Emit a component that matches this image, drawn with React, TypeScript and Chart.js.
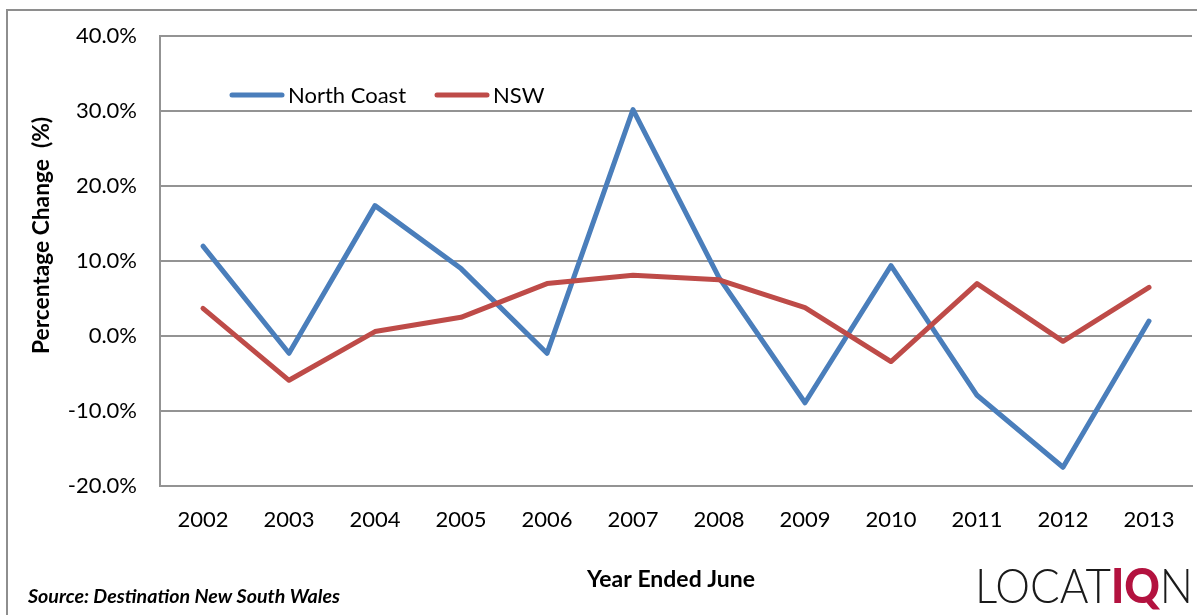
import React, { useEffect, useRef } from 'react';
import { Chart, registerables } from 'chart.js';

Chart.register(...registerables);

const years = ['2002', '2003', '2004', '2005', '2006', '2007', '2008', '2009', '2010', '2011', '2012', '2013'];
const northCoast = [12.0, -2.3, 17.4, 9.0, -2.3, 30.2, 7.8, -8.9, 9.4, -7.9, -17.5, 2.0];
const nsw = [3.7, -5.9, 0.6, 2.5, 7.0, 8.1, 7.5, 3.8, -3.4, 7.0, -0.7, 6.5];
const yMin = -20;
const yMax = 40;
const yStep = 10;

const seriesNames = ['North Coast', 'NSW'];
const seriesColors = ['#4A7EBB', '#BE4B48'];

const yTitle = 'Percentage Change  (%)';
const xTitle = 'Year Ended June';
const sourceText = 'Source: Destination New South Wales';

const GRID = '#939393';
const FONT = 'Lato, "Open Sans", sans-serif';

function fitText(ctx: CanvasRenderingContext2D, text: string, x: number, y: number, width: number) {
  const w = ctx.measureText(text).width;
  ctx.save();
  ctx.translate(x, y);
  ctx.scale(width / w, 1);
  ctx.fillText(text, 0, 0);
  ctx.restore();
}

const overlayPlugin = {
  id: 'overlay',
  beforeDraw(chart: any) {
    const ctx = chart.ctx as CanvasRenderingContext2D;
    ctx.save();
    ctx.fillStyle = '#ffffff';
    ctx.fillRect(0, 0, chart.width, chart.height);
    ctx.strokeStyle = '#8e8e8e';
    ctx.lineWidth = 2;
    ctx.strokeRect(7, 10, 1400, 800);
    ctx.restore();
  },
  afterDraw(chart: any) {
    const ctx = chart.ctx as CanvasRenderingContext2D;
    ctx.save();
    // legend
    const legendX = [230, 435];
    const legendY = 95;
    chart.data.datasets.forEach((ds: any, i: number) => {
      const x = legendX[i];
      ctx.strokeStyle = ds.borderColor;
      ctx.lineWidth = 5;
      ctx.lineCap = 'round';
      ctx.beginPath();
      ctx.moveTo(x + 2, legendY);
      ctx.lineTo(x + 52, legendY);
      ctx.stroke();
      ctx.fillStyle = '#000';
      ctx.font = `22px ${FONT}`;
      ctx.textBaseline = 'middle';
      ctx.textAlign = 'left';
      ctx.fillText(ds.label, x + 58, legendY + 1);
    });

    // y title
    ctx.save();
    ctx.translate(42, 236);
    ctx.rotate(-Math.PI / 2);
    ctx.font = `bold 22px ${FONT}`;
    ctx.textAlign = 'left';
    ctx.textBaseline = 'middle';
    ctx.fillStyle = '#000';
    fitText(ctx, yTitle, -118, 0, 237);
    ctx.restore();

    // x title
    ctx.font = `bold 22px ${FONT}`;
    ctx.textAlign = 'left';
    ctx.textBaseline = 'alphabetic';
    ctx.fillStyle = '#000';
    fitText(ctx, xTitle, 587, 587, 168);

    // source
    ctx.font = `italic bold 19px ${FONT}`;
    fitText(ctx, sourceText, 28, 603, 312);

    // logo
    const ly = 603;
    const light = `300 48px ${FONT}`;
    const heavy = `900 48px ${FONT}`;
    ctx.font = light;
    const w1 = ctx.measureText('LOCAT').width;
    const w3 = ctx.measureText('N').width;
    ctx.font = heavy;
    const w2 = ctx.measureText('IQ').width;
    const sx = 218 / (w1 + w2 + w3);
    ctx.save();
    ctx.translate(975, ly);
    ctx.scale(sx, 1);
    ctx.font = light;
    ctx.fillStyle = '#1a1a1a';
    ctx.fillText('LOCAT', 0, 0);
    ctx.font = heavy;
    ctx.fillStyle = '#B3123F';
    ctx.fillText('IQ', w1, 0);
    ctx.font = light;
    ctx.fillStyle = '#1a1a1a';
    ctx.fillText('N', w1 + w2, 0);
    ctx.restore();
    ctx.restore();
  },
};

export default function App() {
  const ref = useRef<HTMLCanvasElement>(null);

  useEffect(() => {
    document.body.style.margin = '0';
    const canvas = ref.current;
    if (!canvas) return;
    const chart = new Chart(canvas, {
      type: 'line',
      data: {
        labels: years,
        datasets: [
          {
            label: seriesNames[0],
            data: northCoast,
            borderColor: seriesColors[0],
            backgroundColor: seriesColors[0],
            borderWidth: 5,
            pointRadius: 0,
            tension: 0,
            borderJoinStyle: 'round',
            borderCapStyle: 'round',
            order: 1,
          },
          {
            label: seriesNames[1],
            data: nsw,
            borderColor: seriesColors[1],
            backgroundColor: seriesColors[1],
            borderWidth: 5,
            pointRadius: 0,
            tension: 0,
            borderJoinStyle: 'round',
            borderCapStyle: 'round',
            order: 0,
          },
        ],
      },
      options: {
        responsive: false,
        animation: false,
        devicePixelRatio: 1,
        layout: { padding: { top: 31, right: 5, left: 0, bottom: 0 } },
        plugins: {
          legend: { display: false },
          tooltip: { enabled: false },
          title: { display: false },
        },
        scales: {
          x: {
            type: 'category',
            offset: true,
            grid: { display: false, drawTicks: false },
            border: { display: true, color: GRID, width: 2 },
            ticks: {
              font: { family: FONT, size: 22 },
              color: '#000',
              padding: 21,
              maxRotation: 0,
              autoSkip: false,
            },
            afterFit: (s: any) => {
              s.height = 129;
            },
          },
          y: {
            min: yMin,
            max: yMax,
            ticks: {
              stepSize: yStep,
              callback: (v: any) => Number(v).toFixed(1) + '%',
              font: { family: FONT, size: 22 },
              color: '#000',
              padding: 23,
            },
            grid: { color: GRID, lineWidth: 2, drawTicks: false },
            border: { display: true, color: GRID, width: 2 },
            afterFit: (s: any) => {
              s.width = 160;
            },
          },
        },
      },
      plugins: [overlayPlugin],
    } as any);
    return () => chart.destroy();
  }, []);

  return (
    <div style={{ position: 'fixed', left: 0, top: 0, width: 1197, height: 615, overflow: 'hidden', background: '#fff' }}>
      <canvas ref={ref} width={1197} height={615} style={{ width: 1197, height: 615, display: 'block' }} />
    </div>
  );
}
